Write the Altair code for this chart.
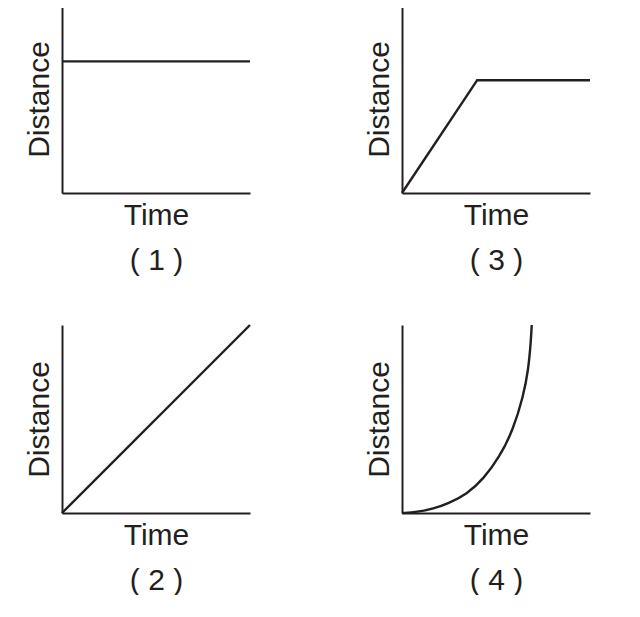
import altair as alt
import pandas as pd

# Panel data (normalised time / distance)
p1_t = [0.0, 1.0]
p1_d = [0.70, 0.70]

p2_t = [0.0, 1.0]
p2_d = [0.0, 1.0]

p3_t = [0.0, 0.40, 1.0]
p3_d = [0.0, 0.60, 0.60]

p4_t = [0.0, 0.08, 0.167, 0.25, 0.344, 0.433, 0.52, 0.59, 0.645, 0.672, 0.686, 0.69]
p4_d = [0.0, 0.005, 0.022, 0.052, 0.10, 0.18, 0.30, 0.44, 0.62, 0.76, 0.92, 1.0]

x_title = "Time"
y_title = "Distance"
labels = ["( 1 )", "( 2 )", "( 3 )", "( 4 )"]

INK = "#231f20"
FONT = "Liberation Sans"


def panel(t, d, label, interp="linear"):
    df = pd.DataFrame({"t": t, "d": d})
    return (
        alt.Chart(df)
        .mark_line(color=INK, strokeWidth=2.4, interpolate=interp)
        .encode(
            x=alt.X(
                "t:Q",
                scale=alt.Scale(domain=[0, 1], nice=False, zero=False),
                axis=alt.Axis(
                    title=[x_title, label],
                    ticks=False, labels=False, grid=False,
                    domainColor=INK, domainWidth=2,
                    titleFont=FONT, titleFontSize=30, titleFontWeight="normal",
                    titleColor=INK, titleLineHeight=45, titlePadding=7,
                ),
            ),
            y=alt.Y(
                "d:Q",
                scale=alt.Scale(domain=[0, 1], nice=False, zero=False),
                axis=alt.Axis(
                    title=y_title,
                    ticks=False, labels=False, grid=False,
                    domainColor=INK, domainWidth=2,
                    titleFont=FONT, titleFontSize=30, titleFontWeight="normal",
                    titleColor=INK, titlePadding=8,
                ),
            ),
        )
        .properties(width=188, height=188)
    )


top = alt.hconcat(panel(p1_t, p1_d, labels[0]), panel(p3_t, p3_d, labels[2]), spacing=108)
bottom = alt.hconcat(panel(p2_t, p2_d, labels[1]), panel(p4_t, p4_d, labels[3], "basis"), spacing=108)

chart = (
    alt.vconcat(top, bottom, spacing=45)
    .properties(padding={"left": 15, "top": -3, "right": 0, "bottom": 0}, background="white")
    .configure_view(stroke=None)
)

chart.save("out.html", embed_options={"renderer": "svg", "actions": False})
